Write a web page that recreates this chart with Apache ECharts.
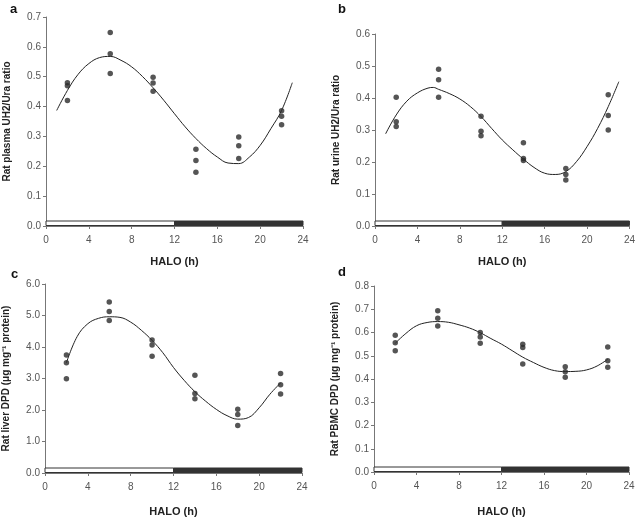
<!DOCTYPE html>
<html>
<head>
<meta charset="utf-8">
<script src="https://cdn.jsdelivr.net/npm/echarts@6/dist/echarts.min.js"></script>
<style>html,body{margin:0;padding:0;background:#fff}#c{width:638px;height:518px}</style>
</head>
<body>
<div id="c"></div>
<script>
// Sampling times (h after lights on)
var sampleTimes = [2, 6, 10, 14, 18, 22];

// Panel a: rat plasma UH2/Ura ratio (three animals per time)
var plasmaPoints = [
  [0.48, 0.47, 0.42],
  [0.648, 0.577, 0.511],
  [0.498, 0.479, 0.451],
  [0.257, 0.219, 0.180],
  [0.298, 0.269, 0.226],
  [0.386, 0.368, 0.339]
];
var plasmaFitX = [1, 2, 3, 4, 5, 6, 7, 8, 9, 10, 11, 12, 13, 14, 15, 16, 17, 18, 19, 20, 21, 22, 23];
var plasmaFitY = [0.387, 0.454, 0.508, 0.544, 0.564, 0.568, 0.555, 0.533, 0.501, 0.463, 0.421, 0.376, 0.332, 0.293, 0.259, 0.231, 0.211, 0.209, 0.231, 0.270, 0.326, 0.387, 0.480];

// Panel b: rat urine UH2/Ura ratio
var urinePoints = [
  [0.402, 0.326, 0.311],
  [0.490, 0.457, 0.402],
  [0.343, 0.296, 0.282],
  [0.260, 0.211, 0.205],
  [0.180, 0.161, 0.144],
  [0.410, 0.345, 0.300]
];
var urineFitX = [1, 2, 3, 4, 5, 5.5, 6, 7, 8, 9, 10, 11, 12, 13, 14, 15, 16, 17, 18, 19, 20, 21, 22, 23];
var urineFitY = [0.288, 0.347, 0.390, 0.416, 0.431, 0.433, 0.427, 0.414, 0.397, 0.373, 0.342, 0.305, 0.269, 0.238, 0.209, 0.183, 0.165, 0.161, 0.170, 0.201, 0.248, 0.305, 0.373, 0.451];

// Panel c: rat liver DPD (µg mg-1 protein)
var liverPoints = [
  [3.75, 3.50, 2.99],
  [5.43, 5.13, 4.84],
  [4.22, 4.06, 3.71],
  [3.10, 2.52, 2.36],
  [2.02, 1.86, 1.51],
  [3.16, 2.80, 2.51]
];
var liverFitX = [2, 3, 4, 5, 6, 7, 8, 9, 10, 11, 12, 13, 14, 15, 16, 17, 18, 19, 20, 21, 22];
var liverFitY = [3.50, 4.33, 4.74, 4.91, 4.96, 4.94, 4.79, 4.53, 4.21, 3.82, 3.35, 2.94, 2.58, 2.28, 2.02, 1.82, 1.71, 1.76, 2.07, 2.50, 2.86];

// Panel d: rat PBMC DPD (µg mg-1 protein)
var pbmcPoints = [
  [0.588, 0.556, 0.522],
  [0.694, 0.661, 0.628],
  [0.600, 0.581, 0.554],
  [0.549, 0.535, 0.464],
  [0.453, 0.431, 0.408],
  [0.538, 0.479, 0.451]
];
var pbmcFitX = [2, 3, 4, 5, 6, 7, 8, 9, 10, 11, 12, 13, 14, 15, 16, 17, 18, 19, 20, 21, 22];
var pbmcFitY = [0.554, 0.596, 0.629, 0.643, 0.647, 0.644, 0.633, 0.619, 0.599, 0.574, 0.550, 0.522, 0.494, 0.471, 0.450, 0.436, 0.432, 0.433, 0.439, 0.456, 0.485];

// Light / dark periods [start, end, isDark]
var lightDark = [[0, 12, 0], [12, 24, 1]];

// Axis settings per panel
var yMax = [0.7, 0.6, 6.0, 0.8];
var yInterval = [0.1, 0.1, 1.0, 0.1];
var yNames = ['Rat plasma UH2/Ura ratio', 'Rat urine UH2/Ura ratio',
  'Rat liver DPD (\u03bcg mg\u207b\u00b9 protein)', 'Rat PBMC DPD (\u03bcg mg\u207b\u00b9 protein)'];
var panelLetters = ['a', 'b', 'c', 'd'];
var xName = 'HALO (h)';

var grids = [
  {left: 46, top: 17, width: 257, height: 209},
  {left: 375, top: 34, width: 256, height: 192},
  {left: 45, top: 284, width: 257, height: 195},
  {left: 374, top: 286, width: 255, height: 192}
];
var xNameGaps = [30, 30, 33, 34];
var letterPos = [[10, 3], [338, 3], [11, 268], [338, 266]];

var FONT = 'Liberation Sans, Arial, sans-serif';
var axisColor = '#777';
var labelColor = '#555';
var dotColor = '#2a2a2a';

function scatterData(points) {
  var out = [];
  for (var i = 0; i < sampleTimes.length; i++) {
    for (var j = 0; j < points[i].length; j++) out.push([sampleTimes[i], points[i][j]]);
  }
  return out;
}
function zip(xs, ys) { return xs.map(function (x, i) { return [x, ys[i]]; }); }

var allPoints = [plasmaPoints, urinePoints, liverPoints, pbmcPoints];
var fitsX = [plasmaFitX, urineFitX, liverFitX, pbmcFitX];
var fitsY = [plasmaFitY, urineFitY, liverFitY, pbmcFitY];

var xAxes = [], yAxes = [], series = [], graphics = [];
for (var k = 0; k < 4; k++) {
  xAxes.push({
    type: 'value', gridIndex: k, min: 0, max: 24, interval: 4,
    name: xName, nameLocation: 'middle', nameGap: xNameGaps[k],
    nameTextStyle: {fontFamily: FONT, fontWeight: 'bold', fontSize: 11, color: '#222'},
    axisLine: {show: true, lineStyle: {color: axisColor, width: 1}},
    axisTick: {show: true, length: 3, lineStyle: {color: axisColor}},
    axisLabel: {fontFamily: FONT, fontSize: 10, color: labelColor, margin: 9},
    splitLine: {show: false}
  });
  yAxes.push({
    type: 'value', gridIndex: k, min: 0, max: yMax[k], interval: yInterval[k],
    name: yNames[k], nameLocation: 'middle', nameGap: 34,
    nameTextStyle: {fontFamily: FONT, fontWeight: 'bold', fontSize: 10, color: '#222'},
    axisLine: {show: true, lineStyle: {color: axisColor, width: 1}},
    axisTick: {show: true, length: 3, lineStyle: {color: axisColor}},
    axisLabel: {fontFamily: FONT, fontSize: 10, color: labelColor, margin: 5,
      formatter: function (v) { return v.toFixed(1); }},
    splitLine: {show: false}
  });
  series.push({
    type: 'custom', xAxisIndex: k, yAxisIndex: k, data: lightDark, silent: true, z: 1,
    renderItem: function (params, api) {
      var s = api.coord([api.value(0), 0]);
      var e = api.coord([api.value(1), 0]);
      var dark = api.value(2) === 1;
      return {
        type: 'rect',
        shape: {x: s[0], y: s[1] - 5, width: e[0] - s[0], height: 4.5},
        style: {fill: dark ? '#333' : '#fff', stroke: '#333', lineWidth: 1}
      };
    }
  });
  series.push({
    type: 'line', xAxisIndex: k, yAxisIndex: k, data: zip(fitsX[k], fitsY[k]),
    smooth: 0.4, showSymbol: false, symbol: 'none', silent: true, z: 2,
    lineStyle: {color: '#222', width: 1}
  });
  series.push({
    type: 'scatter', xAxisIndex: k, yAxisIndex: k, data: scatterData(allPoints[k]),
    symbolSize: 5.5, silent: true, z: 3,
    itemStyle: {color: dotColor}
  });
  graphics.push({
    type: 'text', left: letterPos[k][0], top: letterPos[k][1],
    style: {text: panelLetters[k], font: 'bold 13px ' + FONT, fill: '#111'}
  });
}

var chart = echarts.init(document.getElementById('c'), null, {renderer: 'canvas'});
chart.setOption({
  animation: false,
  backgroundColor: '#fff',
  grid: grids,
  xAxis: xAxes,
  yAxis: yAxes,
  series: series,
  graphic: graphics
});
</script>
</body>
</html>
